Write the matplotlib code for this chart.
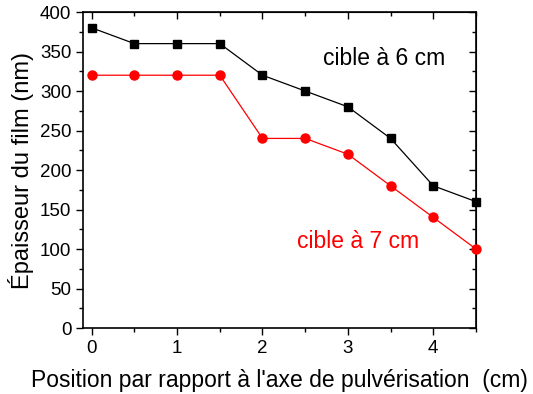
import matplotlib
matplotlib.use("Agg")
import matplotlib.pyplot as plt
from matplotlib.ticker import MultipleLocator

plt.rcParams["font.family"] = ["Liberation Sans", "DejaVu Sans"]

position = [0, 0.5, 1, 1.5, 2, 2.5, 3, 3.5, 4, 4.5]
thickness_6cm = [380, 360, 360, 360, 320, 300, 280, 240, 180, 160]
thickness_7cm = [320, 320, 320, 320, 240, 240, 220, 180, 140, 100]

fig = plt.figure(figsize=(5.33, 3.94), dpi=100)
ax = fig.add_axes([0.156, 0.1675, 0.737, 0.802])

ax.plot(position, thickness_6cm, color="black", lw=0.9, marker="s", ms=5.5, clip_on=False, zorder=3)
ax.plot(position, thickness_7cm, color="red", lw=0.9, marker="o", ms=6.5, clip_on=False, zorder=3)

ax.set_xlim(-0.1, 4.5)
ax.set_ylim(0, 400)
ax.xaxis.set_major_locator(MultipleLocator(1))
ax.xaxis.set_minor_locator(MultipleLocator(0.5))
ax.yaxis.set_major_locator(MultipleLocator(50))
ax.yaxis.set_minor_locator(MultipleLocator(25))

ax.tick_params(which="both", direction="out", top=False, right=False, labelsize=13.5, width=1)
ax.tick_params(which="major", length=5)
ax.tick_params(which="minor", length=3)
for s in ax.spines.values():
    s.set_linewidth(1.2)

# inward mirror ticks on top and right
sec_x = ax.secondary_xaxis("top")
sec_x.xaxis.set_major_locator(MultipleLocator(1))
sec_x.xaxis.set_minor_locator(MultipleLocator(0.5))
sec_x.tick_params(which="both", direction="in", labeltop=False, width=1)
sec_x.tick_params(which="major", length=5)
sec_x.tick_params(which="minor", length=3)
sec_y = ax.secondary_yaxis("right")
sec_y.yaxis.set_major_locator(MultipleLocator(50))
sec_y.yaxis.set_minor_locator(MultipleLocator(25))
sec_y.tick_params(which="both", direction="in", labelright=False, width=1)
sec_y.tick_params(which="major", length=5)
sec_y.tick_params(which="minor", length=3)

ax.set_xlabel("Position par rapport à l'axe de pulvérisation  (cm)", fontsize=16.5, labelpad=9)
ax.set_ylabel("Épaisseur du film (nm)", fontsize=17, labelpad=4)

ax.text(3.43, 341, "cible à 6 cm", fontsize=16.5, color="black", ha="center", va="center")
ax.text(3.12, 110, "cible à 7 cm", fontsize=16.5, color="red", ha="center", va="center")

fig.savefig("out.png", dpi=100)
